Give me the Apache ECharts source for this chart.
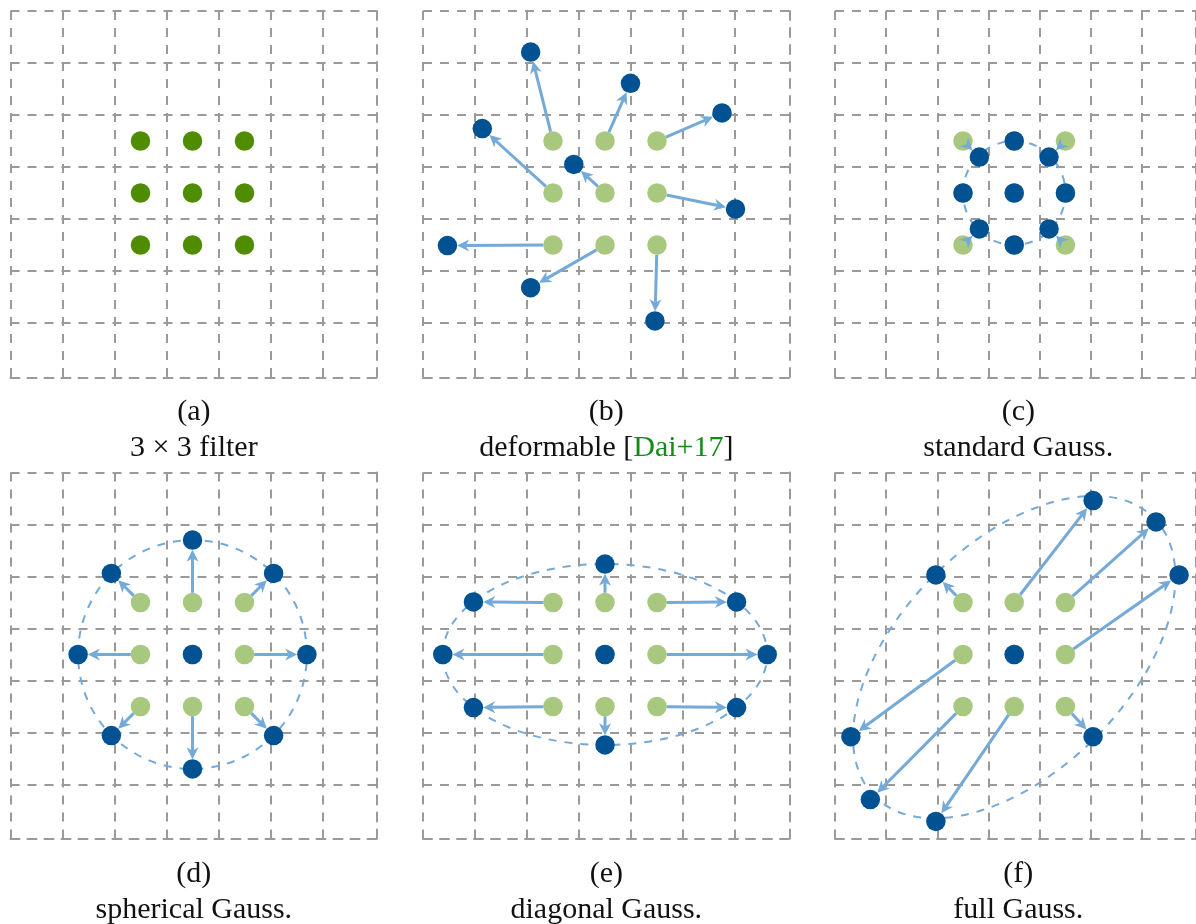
<!DOCTYPE html>
<html><head><meta charset="utf-8">
<script src="https://cdn.jsdelivr.net/npm/echarts@6/dist/echarts.min.js"></script>
<style>html,body{margin:0;padding:0;background:#fff}#main{width:1196px;height:924px}</style>
</head><body><div id="main"></div>
<script>
// ---------------- data ----------------
const panelLabels = ['(a)', '(b)', '(c)', '(d)', '(e)', '(f)'];
const panelCaptions = ['3 × 3 filter', 'deformable [{cite|Dai+17}]', 'standard Gauss.', 'spherical Gauss.', 'diagonal Gauss.', 'full Gauss.'];

// grid lines (grid units); outer border at gridMax
const gridTicks = [0, 1, 2, 3, 4, 5, 6];
const gridMin = 0, gridMax = 7.05;

// regular 3x3 sampling grid (cell centres, grid units, y downwards)
const filterX = [2.5, 3.5, 4.5, 2.5, 3.5, 4.5, 2.5, 3.5, 4.5];
const filterY = [2.5, 2.5, 2.5, 3.5, 3.5, 3.5, 4.5, 4.5, 4.5];

// sampled positions, same order as the 3x3 grid
const deformableX = [2.07, 3.99, 5.75, 1.14, 2.90, 6.01, 0.47, 2.07, 4.46];
const deformableY = [0.79, 1.39, 1.96, 2.26, 2.95, 3.81, 4.51, 5.32, 5.96];
const standardX = [2.82, 3.5, 4.18, 2.5, 3.5, 4.5, 2.82, 3.5, 4.18];
const standardY = [2.81, 2.5, 2.81, 3.5, 3.5, 3.5, 4.19, 4.5, 4.19];
const sphericalX = [1.94, 3.5, 5.06, 1.3, 3.5, 5.7, 1.94, 3.5, 5.06];
const sphericalY = [1.94, 1.3, 1.94, 3.5, 3.5, 3.5, 5.06, 5.7, 5.06];
const diagonalX = [0.97, 3.5, 6.03, 0.38, 3.5, 6.62, 0.97, 3.5, 6.03];
const diagonalY = [2.49, 1.76, 2.49, 3.5, 3.5, 3.5, 4.52, 5.24, 4.52];
const fullX = [1.97, 5.04, 6.27, 0.31, 3.5, 6.72, 0.69, 1.97, 5.04];
const fullY = [1.97, 0.54, 0.95, 5.08, 3.5, 1.97, 6.29, 6.71, 5.08];

// Gaussian contour (dashed ellipse) per panel: centre, radii, rotation (deg, counter-clockwise)
const ellipseCx = [null, null, 3.5, 3.5, 3.5, 3.5];
const ellipseCy = [null, null, 3.5, 3.5, 3.5, 3.55];
const ellipseRx = [null, null, 1.0, 2.2, 3.12, 3.85];
const ellipseRy = [null, null, 1.0, 2.2, 1.74, 2.2];
const ellipseAngle = [null, null, 0, 0, 0, 45];

// ---------------- style / layout ----------------
const C_GRID = '#9a9a9a', C_DKGREEN = '#4f8c00', C_LTGREEN = '#a8c87f',
      C_BLUE = '#005293', C_ARROW = '#74a9d8', C_CITE = '#168a16';
const DOT = 19.5;
const PANEL = 366.6;
const lefts = [10.5, 423, 835, 10.5, 423, 835];
const tops = [11, 11, 11, 472.5, 472.5, 472.5];
const FONT = '"Liberation Serif", "DejaVu Serif", serif';

const sampleX = [null, deformableX, standardX, sphericalX, diagonalX, fullX];
const sampleY = [null, deformableY, standardY, sphericalY, diagonalY, fullY];

const dash = { color: C_GRID, width: 2, type: [9, 8] };
const grids = [], xAxes = [], yAxes = [], series = [], graphics = [];

function zip(xs, ys) { return xs.map((x, i) => [x, ys[i]]); }

for (let i = 0; i < 6; i++) {
  grids.push({ left: lefts[i], top: tops[i], width: PANEL, height: PANEL, containLabel: false });
  const axisCommon = {
    gridIndex: i, type: 'value', min: gridMin, max: gridMax, interval: 1,
    axisLabel: { show: false }, axisTick: { show: false, customValues: gridTicks },
    axisLine: { show: true, onZero: false, lineStyle: dash },
    splitLine: { show: true, showMinLine: true, showMaxLine: true, lineStyle: dash }
  };
  xAxes.push(Object.assign({ position: 'bottom' }, axisCommon));
  yAxes.push(Object.assign({ position: 'right', inverse: true }, axisCommon));

  if (ellipseRx[i] != null) {
    series.push({
      type: 'custom', xAxisIndex: i, yAxisIndex: i, z: 2, silent: true,
      data: [[ellipseCx[i], ellipseCy[i], ellipseRx[i], ellipseRy[i], ellipseAngle[i]]],
      renderItem: function (params, api) {
        const c = api.coord([api.value(0), api.value(1)]);
        const px = api.coord([api.value(0) + api.value(2), api.value(1)]);
        const py = api.coord([api.value(0), api.value(1) + api.value(3)]);
        const rx = Math.abs(px[0] - c[0]);
        const ry = Math.abs(py[1] - c[1]);
        return {
          type: 'ellipse', x: c[0], y: c[1], rotation: api.value(4) * Math.PI / 180,
          shape: { cx: 0, cy: 0, rx: rx, ry: ry },
          style: { fill: 'none', stroke: C_ARROW, lineWidth: 2, lineDash: [8, 8] }
        };
      }
    });
  }

  const base = zip(filterX, filterY);
  series.push({
    type: 'scatter', xAxisIndex: i, yAxisIndex: i, z: 3, silent: true,
    symbol: 'circle', symbolSize: DOT,
    itemStyle: { color: i === 0 ? C_DKGREEN : C_LTGREEN, opacity: 1 },
    data: base
  });

  if (sampleX[i]) {
    const samp = zip(sampleX[i], sampleY[i]);
    const arrows = [];
    base.forEach((b, k) => {
      const s = samp[k];
      if (Math.hypot(s[0] - b[0], s[1] - b[1]) > 0.05) arrows.push([b[0], b[1], s[0], s[1]]);
    });
    series.push({
      type: 'custom', xAxisIndex: i, yAxisIndex: i, z: 4, silent: true,
      data: arrows,
      renderItem: function (params, api) {
        const p0 = api.coord([api.value(0), api.value(1)]);
        const p1 = api.coord([api.value(2), api.value(3)]);
        const dx = p1[0] - p0[0], dy = p1[1] - p0[1];
        const len = Math.hypot(dx, dy);
        const ux = dx / len, uy = dy / len, nx = -uy, ny = ux;
        const r = DOT / 2;
        const s = [p0[0] + ux * r, p0[1] + uy * r];
        const e = [p1[0] - ux * r, p1[1] - uy * r];
        const hl = 12, hw = 6;
        const bx = e[0] - ux * hl, by = e[1] - uy * hl;
        const notch = [e[0] - ux * hl * 0.7, e[1] - uy * hl * 0.7];
        return {
          type: 'group', children: [
            { type: 'line', shape: { x1: s[0], y1: s[1], x2: notch[0], y2: notch[1] },
              style: { stroke: C_ARROW, lineWidth: 3 } },
            { type: 'polygon', shape: { points: [e, [bx + nx * hw, by + ny * hw], notch, [bx - nx * hw, by - ny * hw]] },
              style: { fill: C_ARROW } }
          ]
        };
      }
    });
    series.push({
      type: 'scatter', xAxisIndex: i, yAxisIndex: i, z: 5, silent: true,
      symbol: 'circle', symbolSize: DOT,
      itemStyle: { color: C_BLUE, opacity: 1 },
      data: samp
    });
  }

  const cx = lefts[i] + PANEL / 2;
  const rowTop = tops[i] + PANEL;
  graphics.push({
    type: 'text', x: cx, y: rowTop + 35, silent: true,
    style: { text: panelLabels[i], fill: '#111', font: '30px ' + FONT, align: 'center', verticalAlign: 'middle' }
  });
  graphics.push({
    type: 'text', x: cx, y: rowTop + 71, silent: true,
    style: {
      text: panelCaptions[i], fill: '#111', font: '30px ' + FONT, align: 'center', verticalAlign: 'middle',
      rich: { cite: { fill: C_CITE, fontSize: 30, fontFamily: FONT } }
    }
  });
}

const chart = echarts.init(document.getElementById('main'), null, { renderer: 'canvas' });
chart.setOption({
  animation: false,
  backgroundColor: '#ffffff',
  grid: grids, xAxis: xAxes, yAxis: yAxes, series: series, graphic: graphics
});
</script></body></html>
